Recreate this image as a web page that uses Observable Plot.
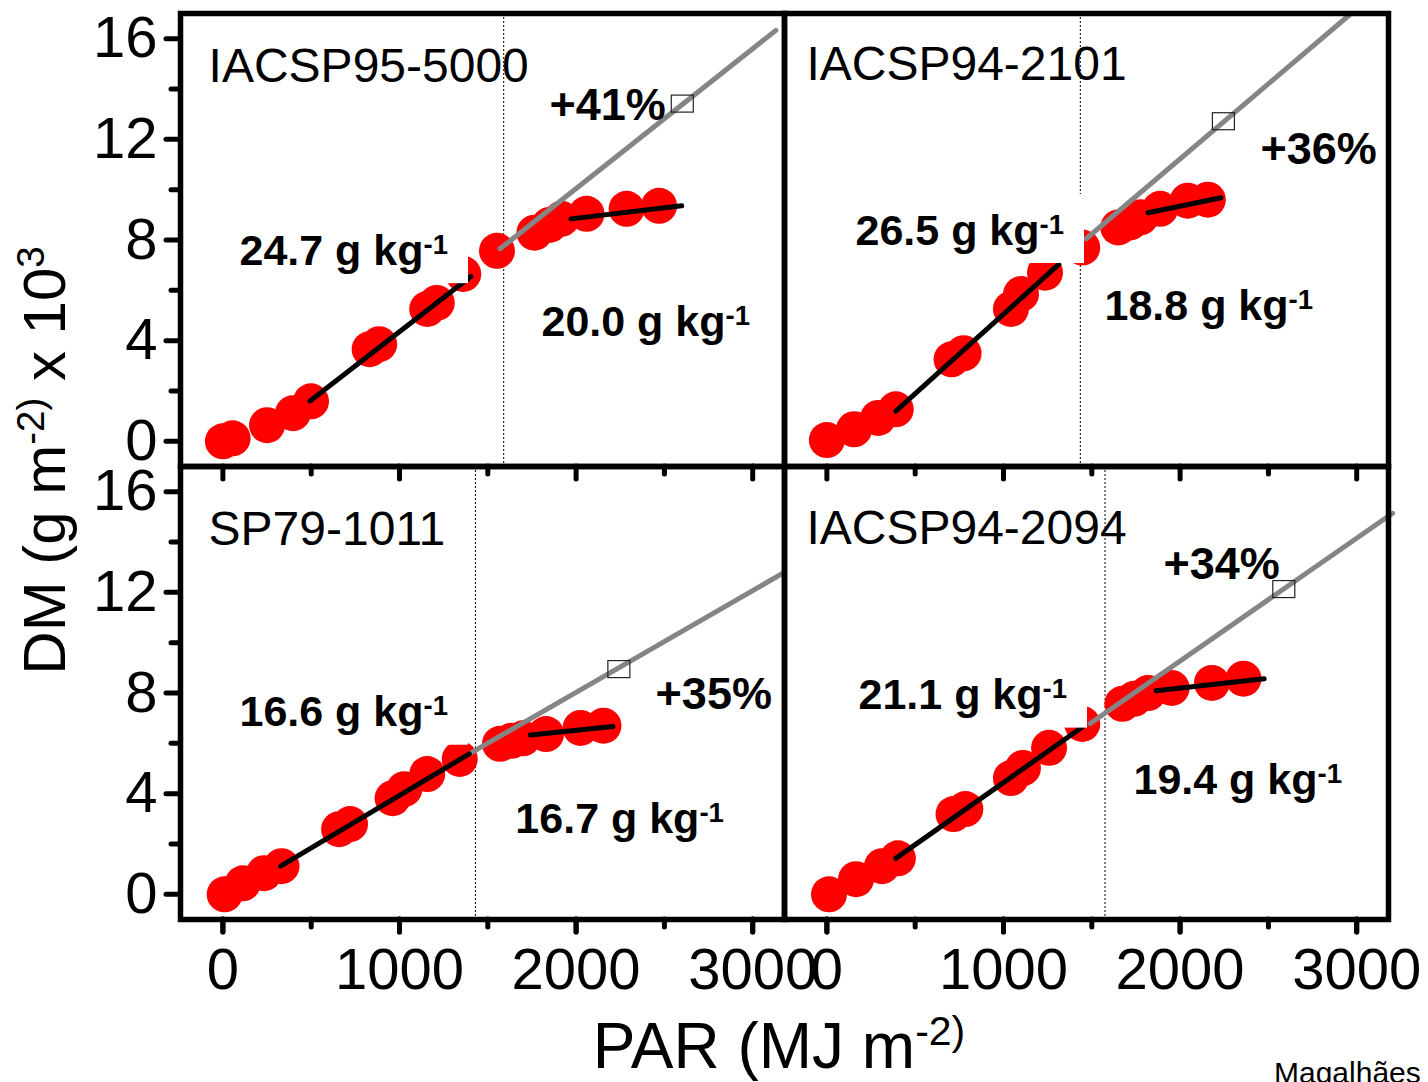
<!DOCTYPE html>
<html>
<head>
<meta charset="utf-8">
<script src="https://cdn.jsdelivr.net/npm/d3@7"></script>
<script src="https://cdn.jsdelivr.net/npm/@observablehq/plot@0.6"></script>
<style>
  html, body { margin: 0; padding: 0; background: #fff; overflow: hidden; }
  #chart { position: relative; width: 1428px; height: 1082px; }
</style>
</head>
<body>
<div id="chart"></div>
<script>
// ---------------- data ----------------
const cultivars = ["IACSP95-5000", "IACSP94-2101", "SP79-1011", "IACSP94-2094"];
const panelColumn = ["left", "right", "left", "right"];
const panelRow = ["top", "top", "bottom", "bottom"];

// accumulated PAR (MJ m-2) and dry mass (g m-2 x 10^3)
const par_IACSP95_5000 = [0, 55, 250, 397, 499, 831, 885, 1157, 1211, 1361, 1552, 1764, 1849, 1917, 2059, 2286, 2470];
const dm_IACSP95_5000  = [0, 0.12, 0.64, 1.12, 1.59, 3.66, 3.86, 5.26, 5.5, 6.65, 7.57, 8.29, 8.6, 8.84, 9.04, 9.24, 9.36];
const par_IACSP94_2101 = [0, 154, 290, 390, 706, 774, 1042, 1099, 1235, 1446, 1650, 1718, 1776, 1887, 2043, 2157];
const dm_IACSP94_2101  = [0.05, 0.48, 0.93, 1.27, 3.26, 3.5, 5.26, 5.85, 6.7, 7.7, 8.5, 8.7, 8.9, 9.24, 9.56, 9.6];
const par_SP79_1011    = [10, 113, 233, 332, 658, 720, 961, 1027, 1157, 1341, 1569, 1634, 1699, 1830, 2025, 2155];
const dm_SP79_1011     = [0, 0.44, 0.84, 1.12, 2.59, 2.79, 3.82, 4.18, 4.78, 5.38, 5.98, 6.1, 6.2, 6.37, 6.61, 6.7];
const par_IACSP94_2094 = [12, 165, 312, 402, 717, 784, 1042, 1110, 1258, 1446, 1673, 1740, 1819, 1952, 2180, 2359];
const dm_IACSP94_2094  = [0, 0.6, 1.12, 1.43, 3.19, 3.39, 4.62, 5.02, 5.82, 6.77, 7.57, 7.77, 8.0, 8.2, 8.4, 8.57];

const parSeries = [par_IACSP95_5000, par_IACSP94_2101, par_SP79_1011, par_IACSP94_2094];
const dmSeries  = [dm_IACSP95_5000, dm_IACSP94_2101, dm_SP79_1011, dm_IACSP94_2094];

// PAR at the break between the two growth phases
const parBreak = [1590, 1435, 1430, 1575];
// fitted lines: [PAR start, DM start, PAR end, DM end]
const fitBefore   = [[493, 1.6, 1404, 6.55], [390, 1.2, 1313, 7.03], [327, 1.12, 1395, 5.58], [390, 1.43, 1447, 6.65]];
const fitAfter    = [[1971, 8.84, 2598, 9.36], [1819, 9.08, 2231, 9.68], [1741, 6.33, 2209, 6.67], [1864, 8.09, 2476, 8.57]];
const fitExtended = [[1569, 7.65, 3131, 16.33], [1468, 8.05, 2960, 16.95], [1395, 5.58, 3171, 12.76], [1491, 6.79, 3203, 15.14]];
// potential DM (open square) [PAR, DM]
const potential = [[2604, 13.4], [2248, 12.7], [2245, 8.93], [2590, 12.11]];

const rueBefore = ["24.7", "26.5", "16.6", "21.1"];
const rueAfter  = ["20.0", "18.8", "16.7", "19.4"];
const gain      = ["+41%", "+36%", "+35%", "+34%"];

// annotation anchors in data units [PAR, DM]
const nameAnchor      = [[-81, 14.29], [-116, 14.37], [-81, 13.9], [-116, 13.94]];
const rueBeforeAnchor = [[94, 7.02], [162, 7.82], [94, 6.68], [179, 7.36]];
const rueAfterAnchor  = [[1804, 4.17], [1572, 4.84], [1656, 2.44], [1736, 3.98]];
const gainAnchor      = [[1849, 12.78], [2455, 11.03], [2450, 7.36], [1906, 12.52]];

const xTicks = [0, 1000, 2000, 3000];
const xMinorTicks = [500, 1500, 2500];
const yTicks = [0, 4, 8, 12, 16];
const yMinorTicks = [2, 6, 10, 14];

const xTitle = "PAR (MJ m^-2)";
const yTitle = "DM (g m^-2) x 10^3";
const credit = "Magalhães";

// ---------------- tables for Plot ----------------
const FONT = "'Liberation Sans', Arial, Helvetica, sans-serif";
const facetOf = i => ({fx: panelColumn[i], fy: panelRow[i]});

const points = cultivars.flatMap((c, i) =>
  parSeries[i].map((x, j) => ({...facetOf(i), x, y: dmSeries[i][j]})));
const segs = arr => arr.map((s, i) => ({...facetOf(i), x1: s[0], y1: s[1], x2: s[2], y2: s[3]}));
const breaks = parBreak.map((x, i) => ({...facetOf(i), x}));
const squares = potential.map((p, i) => ({...facetOf(i), x: p[0], y: p[1]}));
const anchored = (anchors, texts) => anchors.map((a, i) => ({...facetOf(i), x: a[0], y: a[1], text: texts[i]}));
const nameLabels = anchored(nameAnchor, cultivars);
const gainLabels = anchored(gainAnchor, gain);
const rueBeforeLabels = anchored(rueBeforeAnchor, rueBefore.map(v => `${v} g kg^-1`));
const rueAfterLabels = anchored(rueAfterAnchor, rueAfter.map(v => `${v} g kg^-1`));

const W = 1428, H = 1082;
const mL = 179.5, mR = 39.5, mT = 12, mB = 163;
const plain = d => String(d);

const common = {fx: "fx", fy: "fy"};
const chart = Plot.plot({
  width: W, height: H,
  marginLeft: mL, marginRight: mR, marginTop: mT, marginBottom: mB,
  style: {fontFamily: FONT, background: "white", overflow: "visible", color: "black"},
  fx: {domain: ["left", "right"], padding: 0, axis: null},
  fy: {domain: ["top", "bottom"], padding: 0, axis: null},
  x: {domain: [-240, 3180]},
  y: {domain: [-1, 17]},
  marks: [
    Plot.ruleX(breaks, {...common, x: "x", stroke: "black", strokeWidth: 1, strokeDasharray: "2,2"}),
    Plot.dot(points, {...common, x: "x", y: "y", r: 18, fill: "#ff0000", stroke: "none"}),
    Plot.link(segs(fitExtended), {...common, x1: "x1", y1: "y1", x2: "x2", y2: "y2", stroke: "#858585", strokeWidth: 5, strokeLinecap: "round"}),
    Plot.link(segs(fitBefore), {...common, x1: "x1", y1: "y1", x2: "x2", y2: "y2", stroke: "black", strokeWidth: 5, strokeLinecap: "round"}),
    Plot.link(segs(fitAfter), {...common, x1: "x1", y1: "y1", x2: "x2", y2: "y2", stroke: "black", strokeWidth: 5, strokeLinecap: "round"}),
    Plot.rect(squares, {...common, x1: "x", x2: "x", y1: "y", y2: "y", insetLeft: -11, insetRight: -11, insetTop: -8.5, insetBottom: -8.5, fill: "none", stroke: "#222", strokeWidth: 1.2}),
    // white label background boxes
    Plot.rect(rueBeforeLabels, {...common, x1: "x", x2: "x", y1: "y", y2: "y", insetLeft: -10, insetRight: -229, insetTop: -50, insetBottom: -19, fill: "white"}),
    Plot.text(nameLabels, {...common, x: "x", y: "y", text: "text", textAnchor: "start", lineAnchor: "bottom", fontSize: 48, fontFamily: FONT, fill: "black"}),
    Plot.text(gainLabels, {...common, x: "x", y: "y", text: "text", textAnchor: "start", lineAnchor: "bottom", fontSize: 45, fontWeight: "bold", fontFamily: FONT, fill: "black"}),
    Plot.text(rueBeforeLabels, {...common, x: "x", y: "y", text: "text", textAnchor: "start", lineAnchor: "bottom", fontSize: 43, fontWeight: "bold", fontFamily: FONT, fill: "black"}),
    Plot.text(rueAfterLabels, {...common, x: "x", y: "y", text: "text", textAnchor: "start", lineAnchor: "bottom", fontSize: 43, fontWeight: "bold", fontFamily: FONT, fill: "black"}),
    Plot.frame({stroke: "black", strokeWidth: 5.5}),
    // x tick marks on every panel (top panels' ticks point into the lower panels)
    Plot.axisX({ticks: xMinorTicks, tickSize: 8, fill: "none", label: null, strokeWidth: 5, strokeLinecap: "round", facetAnchor: null}),
    Plot.axisX({ticks: xTicks, tickSize: 13, fill: "none", label: null, strokeWidth: 5, strokeLinecap: "round", facetAnchor: null}),
    // y tick marks on the left panels
    Plot.axisY({ticks: yMinorTicks, tickSize: 9, fill: "none", label: null, strokeWidth: 5, strokeLinecap: "round"}),
    // labelled axes on the outer panels
    Plot.axisX({ticks: xTicks, tickFormat: plain, tickSize: 13, tickPadding: 15, fontSize: 58, fontFamily: FONT, label: null, strokeWidth: 5, strokeLinecap: "round"}),
    Plot.axisY({ticks: yTicks, tickFormat: plain, tickSize: 14, tickPadding: 9, fontSize: 58, fontFamily: FONT, label: null, strokeWidth: 5, strokeLinecap: "round"})
  ]
});

document.getElementById("chart").appendChild(chart);

// superscripts written as "base^sup"; raise is in units of the superscript size
function applySup(sel, raise) {
  const scale = 0.64;
  sel.each(function () {
    const txt = this.textContent;
    if (!txt.includes("^") || this.querySelector("tspan")) return;
    const parts = txt.split(/(\^\S+)/).filter(s => s.length);
    this.textContent = "";
    let raised = false;
    for (const p of parts) {
      const t = document.createElementNS("http://www.w3.org/2000/svg", "tspan");
      if (p.startsWith("^")) {
        t.textContent = p.slice(1);
        t.setAttribute("font-size", `${scale}em`);
        t.setAttribute("dy", `${-raise}em`);
        raised = true;
      } else {
        t.textContent = p;
        if (raised) { t.setAttribute("dy", `${raise * scale}em`); raised = false; }
      }
      this.appendChild(t);
    }
  });
}
const svg = d3.select(chart);
applySup(svg.selectAll("text"), 0.4);

// axis titles and credit
const plotCx = mL + (W - mL - mR) / 2;
const plotCy = mT + (H - mT - mB) / 2;
const g = svg.append("g").attr("font-family", FONT).attr("fill", "black");
g.append("text").attr("x", plotCx - 5).attr("y", 1068).attr("text-anchor", "middle")
  .attr("font-size", 64).text(xTitle);
g.append("text").attr("transform", `translate(65,${plotCy - 5}) rotate(-90)`).attr("text-anchor", "middle")
  .attr("font-size", 60).text(yTitle);
g.append("text").attr("x", 1274).attr("y", 1083).attr("text-anchor", "start").attr("font-size", 30).text(credit);
applySup(g.selectAll("text"), 0.55);
</script>
</body>
</html>
